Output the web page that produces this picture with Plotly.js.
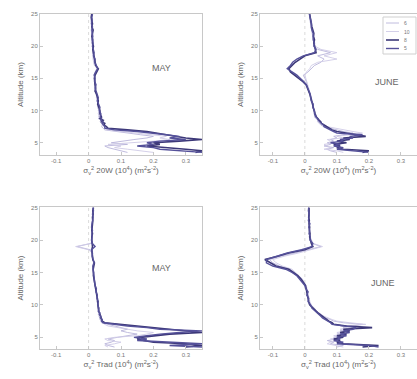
<!DOCTYPE html>
<html>
<head>
<meta charset="utf-8">
<script src="https://cdn.plot.ly/plotly-3.0.1.min.js"></script>
<style>html,body{margin:0;padding:0;background:#fff;}#chart{width:417px;height:379px;}</style>
</head>
<body>
<div id="chart"></div>
<script>
// Altitude grid (km)
const alt = [3.5,3.75,4,4.25,4.5,4.75,5,5.25,5.5,5.75,6,6.25,6.5,6.75,7,7.25,7.5,7.75,8,8.25,8.5,8.75,9,
  9.5,10,10.5,11,11.5,12,12.5,13,13.5,14,14.5,15,15.5,16,16.5,17,17.5,18,18.5,19,19.5,20,20.5,21,21.5,22,22.5,23,23.5,24,24.5,25];

const seriesNames = ["6", "10", "8", "5"];
const panelLabels = ["MAY", "JUNE", "MAY", "JUNE"];
const xTickVals = [-0.1, 0, 0.1, 0.2, 0.3];
const xTickText = ["-0.1", "0", "0.1", "0.2", "0.3"];
const yTickVals = [5, 10, 15, 20, 25];

// MAY, 20W
const may20w_s1 = [.12,.10,.08,.06,.05,.12,.07,.10,.14,.18,.20,.16,.12,.08,.05,.045,.04,.045,.04,.035,.04,.03,.035,
  .03,.032,.028,.03,.025,.026,.022,.02,.022,.018,.02,.017,.019,.022,.028,.018,.016,.014,.015,.012,.014,.011,.012,.009,.011,.01,.008,.01,.009,.007,.009,.008];
const may20w_s2 = [.20,.15,.12,.08,.10,.06,.15,.20,.25,.22,.24,.20,.15,.10,.06,.05,.05,.04,.045,.04,.038,.035,.03,
  .035,.03,.033,.027,.028,.024,.025,.021,.019,.021,.017,.02,.018,.02,.025,.02,.017,.016,.013,.014,.012,.013,.01,.012,.011,.009,.011,.01,.008,.01,.009,.01];
const may20w_s3 = [.33,.35,.30,.25,.18,.22,.20,.28,.35,.30,.27,.25,.22,.18,.12,.06,.055,.048,.05,.04,.045,.035,.04,
  .035,.035,.032,.028,.03,.028,.025,.02,.022,.02,.018,.018,.02,.025,.03,.022,.02,.018,.016,.015,.013,.015,.012,.013,.01,.012,.014,.01,.012,.01,.008,.01];
const may20w_s4 = [.35,.28,.22,.20,.15,.20,.18,.22,.30,.25,.28,.24,.20,.15,.08,.05,.05,.045,.042,.045,.038,.04,.036,
  .038,.033,.035,.03,.027,.03,.026,.024,.02,.023,.019,.02,.017,.022,.028,.024,.019,.02,.015,.017,.014,.012,.014,.011,.013,.011,.01,.012,.009,.011,.01,.012];

// JUNE, 20W
const jun20w_s1 = [.10,.08,.07,.09,.06,.08,.07,.09,.08,.10,.09,.12,.15,.12,.10,.08,.06,.05,.045,.04,.04,.035,.03,
  .03,.028,.025,.022,.02,.018,.016,.012,.01,.008,.005,.0,-.005,.01,.02,.03,.05,.06,.04,.08,.04,.03,.028,.026,.025,.022,.02,.02,.018,.016,.015,.014];
const jun20w_s2 = [.12,.10,.06,.08,.07,.06,.09,.08,.07,.12,.10,.14,.18,.15,.12,.09,.07,.06,.05,.045,.04,.038,.034,
  .032,.03,.028,.025,.022,.02,.018,.015,.012,.01,.006,.002,.0,.005,.015,.02,.04,.1,.06,.1,.05,.032,.03,.028,.026,.024,.022,.02,.019,.018,.016,.015];
const jun20w_s3 = [.18,.20,.12,.10,.11,.09,.13,.10,.14,.12,.19,.16,.12,.10,.085,.075,.068,.06,.052,.05,.045,.04,.036,
  .032,.028,.026,.024,.022,.02,.016,.012,.008,.004,-.006,-.018,-.03,-.045,-.05,-.04,-.03,-.015,.0,.035,.032,.03,.028,.03,.027,.028,.024,.022,.02,.018,.017,.015];
const jun20w_s4 = [.20,.15,.10,.12,.09,.11,.08,.12,.11,.15,.14,.18,.10,.09,.08,.07,.06,.058,.05,.046,.042,.04,.035,
  .03,.03,.025,.026,.02,.018,.017,.013,.01,.005,-.004,-.015,-.025,-.04,-.055,-.045,-.038,-.025,-.005,.03,.035,.028,.03,.026,.025,.026,.022,.02,.021,.018,.016,.014];

// MAY, Trad
const mayTrad_s1 = [.08,.06,.05,.07,.08,.06,.09,.12,.15,.12,.10,.12,.10,.08,.06,.04,.038,.035,.036,.032,.034,.03,.031,
  .029,.03,.026,.028,.024,.025,.021,.02,.017,.018,.014,.016,.013,.015,.017,.012,.013,.01,.005,-.035,.008,.01,.009,.012,.01,.011,.01,.012,.013,.012,.014,.013];
const mayTrad_s2 = [.06,.05,.08,.10,.06,.05,.08,.15,.18,.20,.15,.12,.08,.06,.05,.042,.04,.036,.034,.035,.03,.032,.029,
  .03,.027,.029,.025,.026,.022,.023,.019,.018,.015,.016,.013,.014,.012,.015,.013,.01,.011,.0,-.04,.01,.008,.01,.011,.009,.01,.012,.011,.012,.013,.012,.014];
const mayTrad_s3 = [.30,.35,.30,.20,.17,.15,.16,.20,.25,.35,.30,.25,.20,.15,.10,.05,.042,.04,.038,.036,.035,.033,.032,
  .03,.03,.028,.027,.025,.025,.022,.02,.018,.017,.015,.015,.014,.016,.018,.013,.012,.011,.01,.012,.01,.01,.01,.012,.01,.01,.012,.013,.012,.014,.013,.015];
const mayTrad_s4 = [.35,.25,.35,.22,.15,.18,.14,.18,.22,.28,.35,.22,.18,.12,.08,.045,.04,.042,.036,.038,.033,.035,.03,
  .032,.028,.03,.026,.027,.023,.024,.02,.019,.016,.017,.014,.015,.013,.017,.014,.011,.012,.009,.02,.011,.009,.011,.01,.012,.009,.011,.012,.014,.012,.015,.014];

// JUNE, Trad
const junTrad_s1 = [.10,.12,.08,.09,.07,.10,.09,.11,.10,.12,.11,.14,.12,.15,.18,.12,.09,.08,.065,.058,.05,.042,.036,
  .027,.018,.014,.012,.01,.009,.006,.003,-.003,-.01,-.02,-.032,-.045,-.08,-.1,-.11,-.075,-.03,.01,.05,.022,.018,.016,.017,.014,.015,.013,.014,.012,.013,.012,.013];
const junTrad_s2 = [.12,.09,.07,.08,.10,.08,.11,.09,.12,.10,.13,.11,.13,.11,.19,.14,.10,.085,.07,.06,.052,.045,.038,
  .03,.02,.016,.013,.011,.01,.007,.004,-.002,-.008,-.018,-.03,-.04,-.07,-.09,-.1,-.065,-.02,.02,.055,.025,.02,.017,.016,.015,.014,.014,.013,.013,.012,.013,.012];
const junTrad_s3 = [.18,.23,.12,.10,.11,.09,.12,.10,.13,.11,.14,.12,.21,.13,.09,.085,.075,.068,.06,.055,.048,.042,.036,
  .025,.015,.012,.01,.008,.008,.005,.002,-.005,-.012,-.022,-.035,-.05,-.09,-.11,-.125,-.085,-.05,.0,.025,.02,.018,.015,.016,.014,.015,.013,.014,.012,.013,.012,.013];
const junTrad_s4 = [.23,.20,.10,.12,.09,.11,.10,.13,.11,.14,.12,.15,.16,.12,.085,.08,.07,.065,.055,.05,.045,.038,.032,
  .022,.018,.01,.012,.006,.01,.003,.0,-.008,-.015,-.025,-.04,-.06,-.1,-.12,-.12,-.09,-.055,-.01,.022,.025,.016,.017,.013,.015,.012,.016,.011,.013,.014,.011,.012];

const panels = [
  {series:[may20w_s1,may20w_s2,may20w_s3,may20w_s4], xa:'x', ya:'y'},
  {series:[jun20w_s1,jun20w_s2,jun20w_s3,jun20w_s4], xa:'x2', ya:'y2'},
  {series:[mayTrad_s1,mayTrad_s2,mayTrad_s3,mayTrad_s4], xa:'x3', ya:'y3'},
  {series:[junTrad_s1,junTrad_s2,junTrad_s3,junTrad_s4], xa:'x4', ya:'y4'}
];
const styles = [
  {color:'#b9b4da', width:0.9},
  {color:'#cfcbe6', width:0.9},
  {color:'#3c3878', width:1.6},
  {color:'#55519a', width:1.4}
];

const traces = [];
panels.forEach((p, pi) => {
  p.series.forEach((s, si) => {
    traces.push({
      type:'scatter', mode:'lines', x:s, y:alt, xaxis:p.xa, yaxis:p.ya,
      name:seriesNames[si], showlegend:false,
      line:{color:styles[si].color, width:styles[si].width}
    });
  });
});

const FONT = 'Liberation Sans, Arial, sans-serif';
function xax(domain, range, anchor, title) {
  return {domain, range, anchor, tickvals:xTickVals, ticktext:xTickText,
    showline:true, mirror:true, linecolor:'#c8c8c8', linewidth:1, ticks:'inside', ticklen:3,
    tickcolor:'#c8c8c8', showgrid:false, zeroline:false, tickfont:{size:6, color:'#777', family:FONT},
    title:{text:title, font:{size:8, color:'#666', family:FONT}, standoff:4}};
}
function yax(domain, range, anchor) {
  return {domain, range, anchor, tickvals:yTickVals,
    showline:true, mirror:true, linecolor:'#c8c8c8', linewidth:1, ticks:'inside', ticklen:3,
    tickcolor:'#c8c8c8', showgrid:false, zeroline:false, tickfont:{size:6, color:'#777', family:FONT},
    title:{text:'Altitude (km)', font:{size:8, color:'#666', family:FONT}, standoff:6}};
}
const t20 = 'σ<sub>v</sub><sup>2</sup> 20W (10<sup>4</sup>) (m<sup>2</sup>s<sup>-2</sup>)';
const tTr = 'σ<sub>v</sub><sup>2</sup> Trad (10<sup>4</sup>) (m<sup>2</sup>s<sup>-2</sup>)';

const dxL = [40/417, 202/417], dxR = [260/417, 1];
const dyT = [1-155/379, 1-14/379], dyB = [1-349/379, 1-207/379];

// compact legend box (top-right panel), built from the series names/styles
const legBox = {x0:383/417, x1:416/417, y0:1-54/379, y1:1-17/379};
const shapes = ['x','x2','x3','x4'].map((xa, i) => ({type:'line', xref:xa, yref:'y'+(i? i+1 : '') + ' domain',
    x0:0, x1:0, y0:0, y1:1, line:{color:'#d0d0d0', width:0.8, dash:'dot'}, layer:'below'}));
shapes.push({type:'rect', xref:'paper', yref:'paper', x0:legBox.x0, x1:legBox.x1, y0:legBox.y0, y1:legBox.y1,
  fillcolor:'#fff', line:{color:'#cfcfcf', width:1}});
const annotations = [
  {x:0.226, y:16.6, xref:'x', yref:'y', text:panelLabels[0], showarrow:false, font:{size:9, color:'#666', family:FONT}},
  {x:0.255, y:14.5, xref:'x2', yref:'y2', text:panelLabels[1], showarrow:false, font:{size:9, color:'#666', family:FONT}},
  {x:0.226, y:15.7, xref:'x3', yref:'y3', text:panelLabels[2], showarrow:false, font:{size:9, color:'#666', family:FONT}},
  {x:0.245, y:13.4, xref:'x4', yref:'y4', text:panelLabels[3], showarrow:false, font:{size:9, color:'#666', family:FONT}}
];
seriesNames.forEach((n, i) => {
  const yy = 1 - (23 + i*8.5)/379;
  shapes.push({type:'line', xref:'paper', yref:'paper', x0:386/417, x1:399/417, y0:yy, y1:yy,
    line:{color:styles[i].color, width:styles[i].width}});
  annotations.push({x:402/417, y:yy, xref:'paper', yref:'paper', xanchor:'left', yanchor:'middle',
    text:n, showarrow:false, font:{size:5, color:'#777', family:FONT}});
});

const layout = {
  width:417, height:379, margin:{l:0, r:0, t:0, b:0},
  paper_bgcolor:'#fff', plot_bgcolor:'#fff',
  font:{family:FONT},
  xaxis: xax(dxL, [-0.15, 0.35], 'y', t20),
  yaxis: yax(dyT, [3.1, 25], 'x'),
  xaxis2: xax(dxR, [-0.14, 0.35], 'y2', t20),
  yaxis2: yax(dyT, [3.1, 25], 'x2'),
  xaxis3: xax(dxL, [-0.15, 0.35], 'y3', tTr),
  yaxis3: yax(dyB, [3.2, 25.1], 'x3'),
  xaxis4: xax(dxR, [-0.14, 0.35], 'y4', tTr),
  yaxis4: yax(dyB, [3.2, 25.1], 'x4'),
  showlegend:false,
  shapes, annotations
};

Plotly.newPlot('chart', traces, layout, {staticPlot:true, displayModeBar:false});
</script>
</body>
</html>
